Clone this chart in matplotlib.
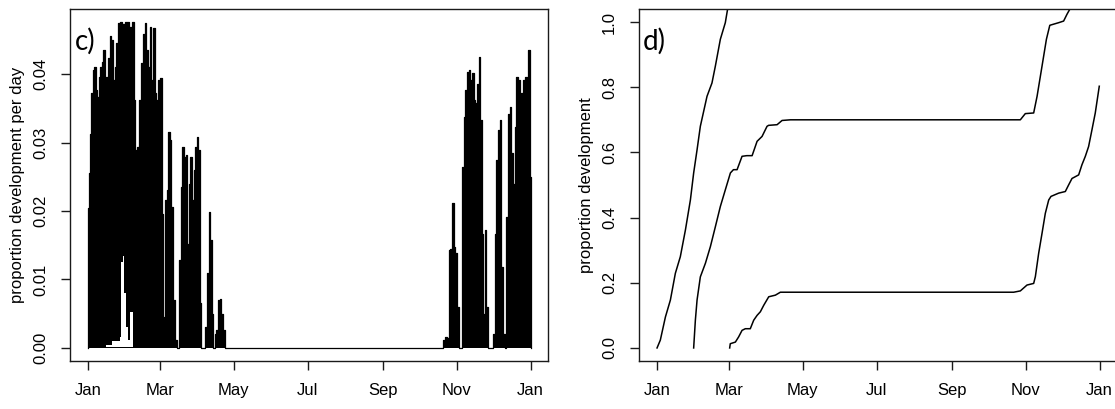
import numpy as np
import matplotlib.pyplot as plt

plt.rcParams['font.family'] = ['Liberation Sans', 'DejaVu Sans']

# month ticks, as day of year
tick_days = [0, 59, 120, 181, 243, 304, 365]
tick_labels = ["Jan", "Mar", "May", "Jul", "Sep", "Nov", "Jan"]

# c) development per day - upper envelope of the daily cycle
rate_days = [0.0, 0.0, 1.1, 2.2, 3.3, 4.4, 6.1, 7.2, 8.3, 9.4, 11.0, 12.1, 13.2, 14.3,
             15.7, 17.1, 18.5, 19.8, 21.2, 22.6, 24.0, 25.3, 26.7, 29.4, 32.2, 34.9,
             37.1, 38.5, 39.6, 41.3, 43.2, 44.6, 45.9, 47.3, 48.7, 50.1, 51.4, 52.8,
             54.2, 55.6, 56.9, 58.3, 60.3, 61.1, 61.9, 63.0, 64.4, 65.7, 66.6, 68.0,
             69.3, 70.7, 72.1, 74.0, 74.8, 75.7, 77.0, 78.1, 79.8, 81.2, 82.3, 83.6,
             85.0, 86.4, 87.8, 89.1, 90.5, 91.3, 92.7, 94.1, 96.3, 97.4, 98.7, 99.6,
             100.4, 101.5, 102.3, 103.7, 105.1, 106.4, 107.8, 109.2, 110.6, 111.9, 113.3,
             292.1, 293.5, 294.9, 297.1, 297.6, 298.2, 299.5, 300.9, 302.3, 303.7, 305.0,
             306.4, 307.8, 309.2, 310.5, 311.9, 313.3, 314.7, 316.0, 317.4, 318.8, 320.2,
             321.5, 322.9, 324.3, 325.1, 326.5, 327.9, 329.2, 330.6, 333.4, 334.7, 336.1,
             337.5, 338.9, 340.2, 341.6, 343.0, 344.4, 345.7, 347.1, 348.5, 349.9, 351.2,
             352.6, 354.0, 355.4, 356.8, 358.1, 359.5, 360.9, 362.3, 363.6, 364.7, 365.0,
             365.0]
rate_max = [0.0, 0.0204, 0.0255, 0.0313, 0.0372, 0.0406, 0.0411, 0.0377, 0.0367, 0.0396,
            0.0411, 0.0418, 0.0435, 0.0347, 0.0396, 0.0423, 0.0455, 0.0450, 0.0391,
            0.0411, 0.0445, 0.0474, 0.0476, 0.0473, 0.0476, 0.0469, 0.0476, 0.0362,
            0.0289, 0.0294, 0.0362, 0.0416, 0.0459, 0.0475, 0.0435, 0.0411, 0.0469,
            0.0391, 0.0467, 0.0372, 0.0362, 0.0391, 0.0394, 0.0196, 0.0006, 0.0045,
            0.0216, 0.0230, 0.0316, 0.0304, 0.0206, 0.0070, 0.0011, 0.0, 0.0, 0.0128,
            0.0235, 0.0294, 0.0279, 0.0282, 0.0152, 0.0240, 0.0279, 0.0216, 0.0260,
            0.0294, 0.0308, 0.0289, 0.0065, 0.0, 0.0, 0.0031, 0.0109, 0.0094, 0.0199,
            0.0157, 0.0050, 0.0, 0.0021, 0.0026, 0.0070, 0.0072, 0.0050, 0.0026, 0.0,
            0.0, 0.0011, 0.0016, 0.0014, 0.0005, 0.0143, 0.0145, 0.0211, 0.0148, 0.0138,
            0.0060, 0.0, 0.0, 0.0265, 0.0338, 0.0377, 0.0403, 0.0406, 0.0391, 0.0401,
            0.0362, 0.0357, 0.0386, 0.0425, 0.0333, 0.0167, 0.0050, 0.0172, 0.0060, 0.0,
            0.0, 0.0021, 0.0167, 0.0274, 0.0318, 0.0333, 0.0118, 0.0021, 0.0, 0.0191,
            0.0342, 0.0352, 0.0284, 0.0240, 0.0323, 0.0396, 0.0391, 0.0328, 0.0372,
            0.0391, 0.0396, 0.0377, 0.0435, 0.0406, 0.0250, 0.0]
# lower envelope (night minimum)
low_days = [0.0, 4.0, 5.0, 9.0, 10.0, 14.0, 15.0, 25.3, 26.7, 27.5, 29.5, 30.3, 32.2,
            34.1, 35.8, 37.4, 38.0, 365.0]
rate_min = [0.0, 0.0, 0.0006, 0.0, 0.0006, 0.0, 0.0005, 0.001, 0.0016, 0.0126, 0.0135,
            0.008, 0.003, 0.0011, 0.0053, 0.0053, 0.0, 0.0]

# d) cumulative proportion development of three generations
gen1_days = [0, 2.7, 6.9, 11.0, 15.1, 19.2, 23.4, 27.5, 30.2, 33.0, 35.7, 41.2, 45.3,
             48.1, 52.2, 56.3, 58.2, 60.0]
gen1_dev = [0, 0.024, 0.095, 0.147, 0.229, 0.28, 0.362, 0.454, 0.537, 0.608, 0.68,
            0.772, 0.813, 0.865, 0.947, 0.998, 1.04, 1.08]
gen2_days = [30.2, 31.6, 33.0, 35.7, 39.9, 44.0, 48.1, 52.2, 56.3, 60.5, 63.0, 66.0,
             70.1, 74.0, 78.4, 82.5, 86.6, 90.7, 92.0, 99.0, 103.1, 110.0, 299.6, 303.7,
             310.6, 313.4, 317.5, 321.1, 323.9, 331.2, 335.3, 338.1, 340.8, 342.0]
gen2_dev = [0, 0.085, 0.147, 0.218, 0.26, 0.311, 0.372, 0.434, 0.485, 0.537, 0.547,
            0.547, 0.588, 0.59, 0.59, 0.634, 0.649, 0.68, 0.683, 0.685, 0.698, 0.70,
            0.70, 0.719, 0.721, 0.772, 0.865, 0.947, 0.99, 0.998, 1.003, 1.024, 1.042,
            1.06]
gen3_days = [59.9, 60.4, 64.6, 67.3, 70.1, 72.8, 76.9, 79.7, 82.5, 85.2, 88.0, 92.1,
             97.6, 101.7, 294.1, 299.6, 305.1, 310.6, 312.0, 314.7, 317.5, 320.2, 323.0,
             324.9, 331.2, 336.7, 339.4, 342.2, 347.7, 350.4, 353.2, 355.9, 358.7, 361.4,
             364.7]
gen3_dev = [0, 0.013, 0.018, 0.034, 0.054, 0.059, 0.059, 0.085, 0.1, 0.111, 0.131,
            0.157, 0.162, 0.171, 0.171, 0.175, 0.193, 0.198, 0.219, 0.29, 0.352, 0.413,
            0.454, 0.465, 0.475, 0.48, 0.5, 0.52, 0.531, 0.562, 0.588, 0.618, 0.67,
            0.721, 0.803]


def style_axes(ax, yticks, yfmt):
    for s in ax.spines.values():
        s.set_linewidth(1.0)
        s.set_color('#1a1a1a')
    ax.set_xlim(-14.6, 379.6)
    ax.set_xticks(tick_days)
    ax.set_xticklabels(tick_labels)
    ax.set_yticks(yticks)
    ax.set_yticklabels([yfmt % v for v in yticks])
    ax.tick_params(length=6.5, width=1.0, pad=9.5, labelsize=12, color='#1a1a1a')
    ax.tick_params(axis='y', labelrotation=90)
    for lbl in ax.get_yticklabels():
        lbl.set_va('center')


fig = plt.figure(figsize=(11.15, 4.09), dpi=100)

# c) development rate
ax1 = fig.add_axes([0.0631, 0.1174, 0.4287, 0.8606])
ax1.fill_between(rate_days, 0, rate_max, step='mid', color='black', lw=0)
ax1.plot(rate_days, rate_max, color='black', lw=0.9, drawstyle='steps-mid')
# space left free below the night minimum
ax1.fill_between(low_days, 0.00012, rate_min, step='mid', color='white', lw=0,
                 where=[v > 0 for v in rate_min])
ax1.set_ylim(-0.0019, 0.0495)
style_axes(ax1, [0.0, 0.01, 0.02, 0.03, 0.04], '%.2f')
ax1.set_ylabel("proportion development per day", fontsize=12)
ax1.yaxis.set_label_coords(-0.094, 0.5)
ax1.text(0.01, 0.884, "c)", transform=ax1.transAxes, fontsize=20,
         family=['Lato', 'DejaVu Sans'], va='baseline')

# d) cumulative development
ax2 = fig.add_axes([0.5734, 0.1174, 0.4287, 0.8606])
ax2.plot(gen1_days, gen1_dev, color='black', lw=1.1)
ax2.plot(gen2_days, gen2_dev, color='black', lw=1.1)
ax2.plot(gen3_days, gen3_dev, color='black', lw=1.1)
ax2.set_ylim(-0.04, 1.04)
style_axes(ax2, [0.0, 0.2, 0.4, 0.6, 0.8, 1.0], '%.1f')
ax2.set_ylabel("proportion development", fontsize=12)
ax2.yaxis.set_label_coords(-0.094, 0.5)
ax2.text(0.008, 0.884, "d)", transform=ax2.transAxes, fontsize=20,
         family=['Lato', 'DejaVu Sans'], va='baseline')

fig.savefig('out.png', dpi=100)
